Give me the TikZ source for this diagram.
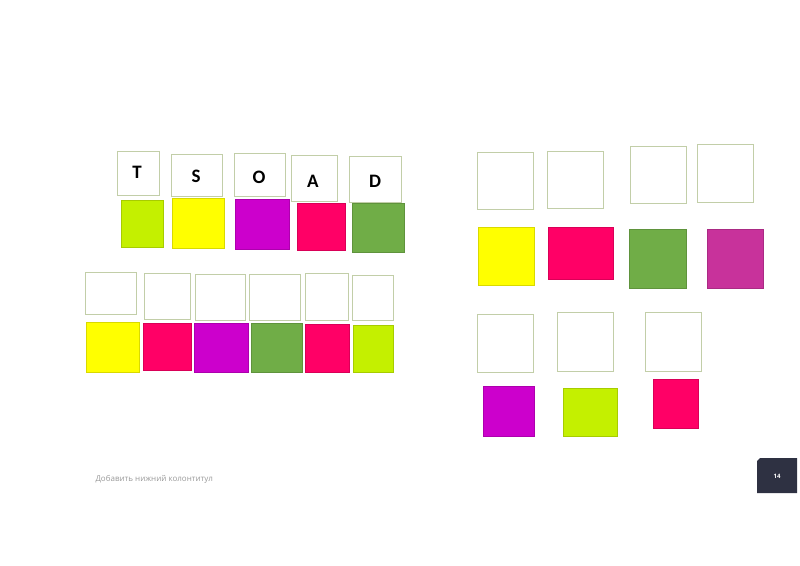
\documentclass[tikz,border=0pt]{standalone}
\usepackage{fontspec}
\usepackage{xcolor}
\setmainfont{Carlito}
\newfontfamily\footfont{Open Sans}
\definecolor{cLime}{HTML}{C4F000}
\definecolor{cYellow}{HTML}{FFFF00}
\definecolor{cPurple}{HTML}{CC00CC}
\definecolor{cPink}{HTML}{FF0066}
\definecolor{cGreen}{HTML}{70AD47}
\definecolor{cMagenta}{HTML}{C8329B}
\definecolor{cFrame}{HTML}{C2CEA8}
\definecolor{cSlide}{HTML}{2E3142}
\tikzset{
  slot/.style={draw=cFrame, line width=0.8pt, fill=white},
  tile/.style={draw=#1!85!black, line width=0.4pt, fill=#1},
  letter/.style={font=\fontsize{19}{19}\selectfont\bfseries, anchor=center}
}
\begin{document}
\begin{tikzpicture}[x=1pt, y=-1pt]
			\useasboundingbox (0,0) rectangle (800,565);
			%   %   %   %   %   %   %   %   %   %   %
			%   Word slots
				\draw[slot] (117,151) rectangle (159,195);
				\draw[slot] (171,154) rectangle (222,196);
				\draw[slot] (234,153) rectangle (285,196);
				\draw[slot] (291,155) rectangle (337,201);
				\draw[slot] (349,156) rectangle (401,202);
				\node[letter] (lT) at (137,172) {T};
				\node[letter] (lS) at (196,176) {S};
				\node[letter] (lO) at (259,177) {O};
				\node[letter] (lA) at (313,181) {A};
				\node[letter] (lD) at (375,181) {D};
			%   %   %   %   %   %   %   %   %   %   %
			%   Word tiles
				\draw[tile=cLime]   (121,200) rectangle (163,247);
				\draw[tile=cYellow] (172,198) rectangle (224,248);
				\draw[tile=cPurple] (235,199) rectangle (289,249);
				\draw[tile=cPink]   (297,203) rectangle (345,250);
				\draw[tile=cGreen]  (352,203) rectangle (404,252);
			%   %   %   %   %   %   %   %   %   %   %
			%   Second row, slots
				\draw[slot] (85,272) rectangle (136,314);
				\draw[slot] (144,273) rectangle (190,319);
				\draw[slot] (195,274) rectangle (245,320);
				\draw[slot] (249,274) rectangle (300,320);
				\draw[slot] (305,273) rectangle (348,320);
				\draw[slot] (352,275) rectangle (393,320);
			%   %   %   %   %   %   %   %   %   %   %
			%   Second row, tiles
				\draw[tile=cYellow] (86,322) rectangle (139,372);
				\draw[tile=cPink]   (143,323) rectangle (191,370);
				\draw[tile=cPurple] (194,323) rectangle (248,372);
				\draw[tile=cGreen]  (251,323) rectangle (302,372);
				\draw[tile=cPink]   (305,324) rectangle (349,372);
				\draw[tile=cLime]   (353,325) rectangle (393,372);
			%   %   %   %   %   %   %   %   %   %   %
			%   Right block, upper slots
				\draw[slot] (477,152) rectangle (533,209);
				\draw[slot] (547,151) rectangle (603,208);
				\draw[slot] (630,146) rectangle (686,203);
				\draw[slot] (697,144) rectangle (753,202);
			%   %   %   %   %   %   %   %   %   %   %
			%   Right block, upper tiles
				\draw[tile=cYellow]  (478,227) rectangle (534,285);
				\draw[tile=cPink]    (548,227) rectangle (613,279);
				\draw[tile=cGreen]   (629,229) rectangle (686,288);
				\draw[tile=cMagenta] (707,229) rectangle (763,288);
			%   %   %   %   %   %   %   %   %   %   %
			%   Right block, lower slots
				\draw[slot] (477,314) rectangle (533,372);
				\draw[slot] (557,312) rectangle (613,371);
				\draw[slot] (645,312) rectangle (701,371);
			%   %   %   %   %   %   %   %   %   %   %
			%   Right block, lower tiles
				\draw[tile=cPurple] (483,386) rectangle (534,436);
				\draw[tile=cLime]   (563,388) rectangle (617,436);
				\draw[tile=cPink]   (653,379) rectangle (698,428);
			%   %   %   %   %   %   %   %   %   %   %
			%   Footer
				\node[font=\footfont\fontsize{8}{9}\selectfont, text=black!40, anchor=west]
				(footer) at (92,479) {Добавить нижний колонтитул};
				\fill[cSlide] (760,458) -- (797,458) -- (797,493) -- (757,493) -- (757,461) -- cycle;
				\node[font=\footfont\fontsize{6}{7}\selectfont\bfseries, text=white, anchor=center]
				(pagenum) at (777,476) {14};
\end{tikzpicture}
\end{document}
